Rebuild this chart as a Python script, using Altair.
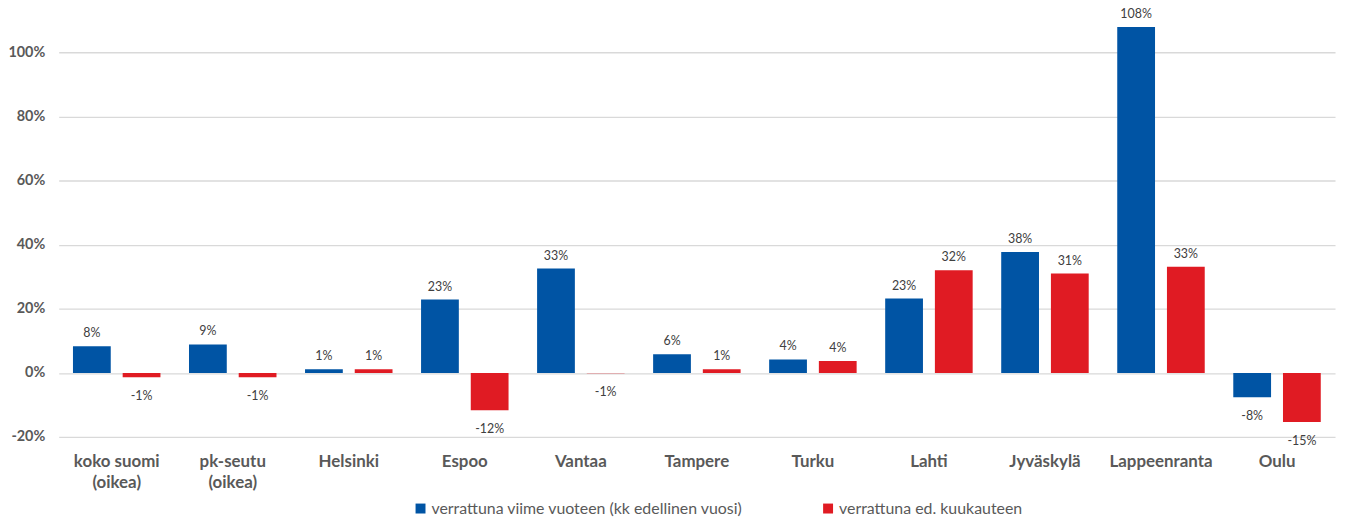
import altair as alt
import pandas as pd

cities = ["koko suomi\n(oikea)", "pk-seutu\n(oikea)", "Helsinki", "Espoo", "Vantaa",
          "Tampere", "Turku", "Lahti", "Jyväskylä", "Lappeenranta", "Oulu"]
series = ["verrattuna viime vuoteen (kk edellinen vuosi)", "verrattuna ed. kuukauteen"]
colors = ["#0054A4", "#E01B23"]

blue_values = [8.3, 8.9, 1.1, 22.9, 32.6, 5.8, 4.2, 23.2, 37.7, 108.0, -7.6]
red_values = [-1.4, -1.4, 1.1, -11.7, -0.1, 1.1, 3.7, 32.0, 31.0, 33.1, -15.3]
blue_labels = ["8%", "9%", "1%", "23%", "33%", "6%", "4%", "23%", "38%", "108%", "-8%"]
red_labels = ["-1%", "-1%", "1%", "-12%", "-1%", "1%", "4%", "32%", "31%", "33%", "-15%"]

y_ticks = [-20, 0, 20, 40, 60, 80, 100]

rows = []
for c, v, l in zip(cities, blue_values, blue_labels):
    rows.append({"city": c, "series": series[0], "value": v, "label": l})
for c, v, l in zip(cities, red_values, red_labels):
    rows.append({"city": c, "series": series[1], "value": v, "label": l})
df = pd.DataFrame(rows)

FONT = "Lato"

x_enc = alt.X(
    "city:N", sort=cities, title=None,
    scale=alt.Scale(paddingInner=0.246, paddingOuter=0.123),
    axis=alt.Axis(labelAngle=0, labelExpr="split(datum.label, '\\n')", labelFont=FONT,
                  labelFontSize=17, labelFontWeight="bold", labelColor="#595959",
                  labelPadding=17, labelLineHeight=21, ticks=False, domain=False,
                  labelBaseline="top", labelLimit=0, grid=False),
)
xoff = alt.XOffset("series:N", sort=series,
                   scale=alt.Scale(paddingInner=0.24, paddingOuter=0))
y_enc = alt.Y(
    "value:Q", title=None,
    scale=alt.Scale(domain=[-20, 112.8], nice=False, zero=False),
    axis=alt.Axis(values=y_ticks, labelExpr="datum.value + '%'", labelFont=FONT,
                  labelFontSize=14.5, labelFontWeight="bold", labelColor="#595959",
                  labelPadding=14, ticks=False, domain=False, gridColor="#D9D9D9",
                  gridWidth=1.3),
)

base = alt.Chart(df)

bars = base.mark_bar().encode(
    x=x_enc, xOffset=xoff, y=y_enc, y2=alt.datum(0),
    color=alt.Color("series:N", sort=series,
                    scale=alt.Scale(domain=series, range=colors),
                    legend=alt.Legend(title=None, orient="none", direction="horizontal",
                                      legendX=356, legendY=492, symbolType="square",
                                      symbolSize=100, symbolStrokeWidth=0,
                                      labelFont=FONT, labelFontSize=16,
                                      labelColor="#595959", labelLimit=0,
                                      columnPadding=77, symbolOffset=0, labelOffset=3)),
)

text_pos = base.transform_filter("datum.value >= 0").mark_text(
    font=FONT, fontSize=12.5, color="#404040", baseline="alphabetic", dy=-9
).encode(x=x_enc, xOffset=xoff, y=y_enc, text="label:N")

text_neg = base.transform_filter("datum.value < 0").mark_text(
    font=FONT, fontSize=12.5, color="#404040", baseline="alphabetic", dy=23
).encode(x=x_enc, xOffset=xoff, y=y_enc, text="label:N")

chart = alt.layer(bars, text_pos, text_neg).properties(
    width=1284, height=428, autosize="none", background="white",
    padding={"left": 51, "top": 2, "right": 6, "bottom": 82},
).configure_view(stroke=None)

chart.save("out.html", embed_options={"renderer": "svg", "actions": False})
